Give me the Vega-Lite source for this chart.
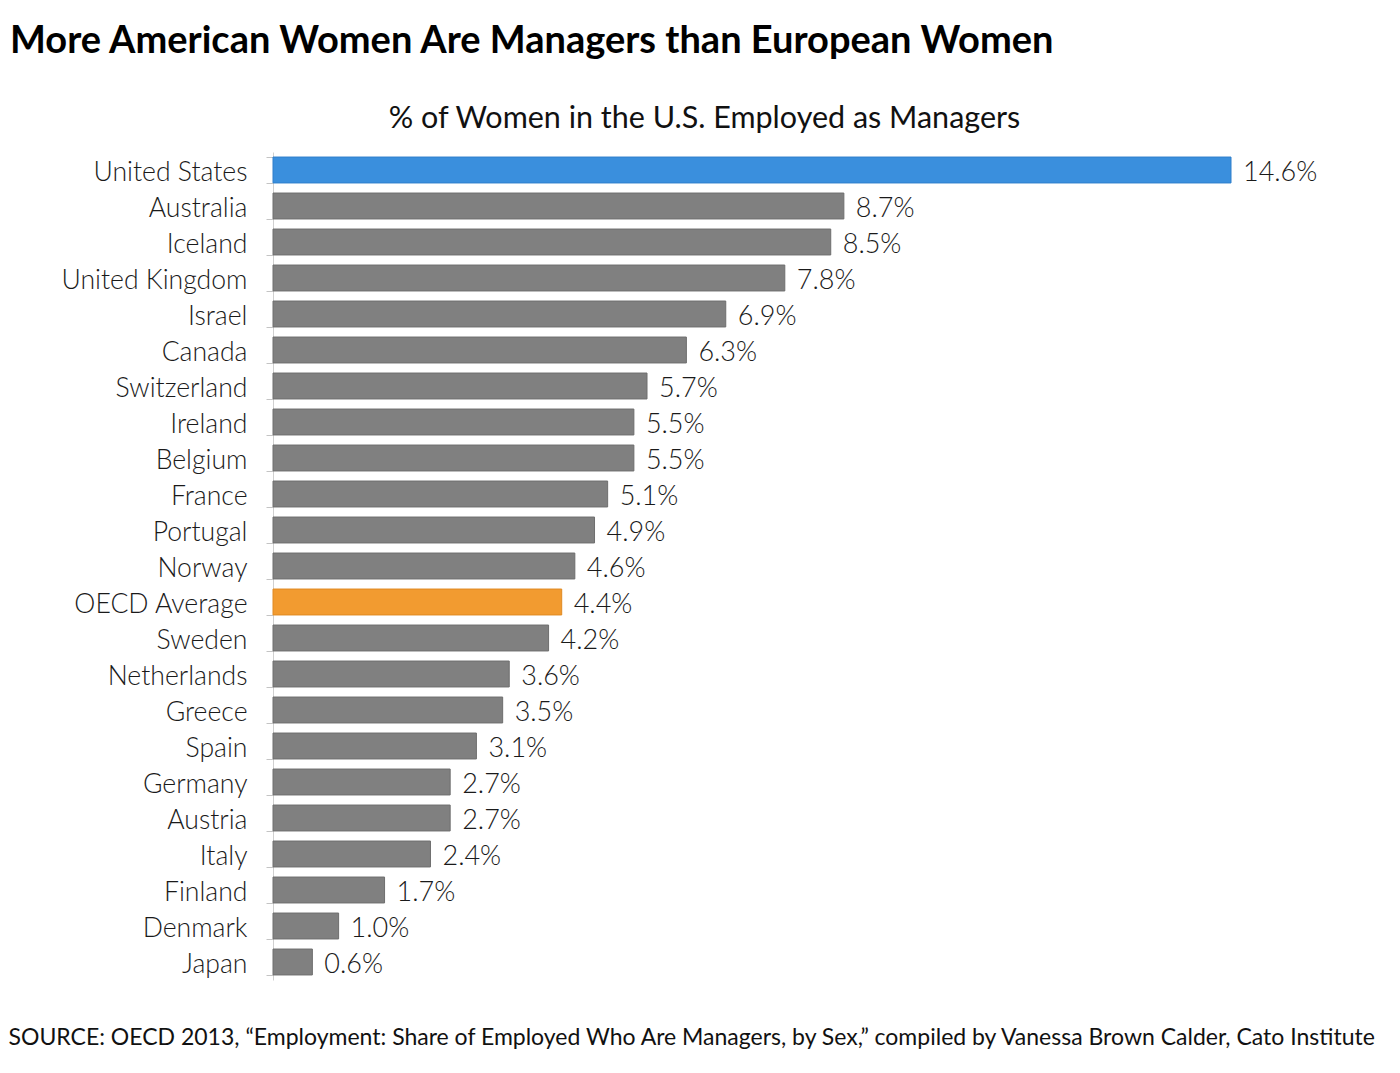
{
  "$schema": "https://vega.github.io/schema/vega-lite/v6.json",
  "width": 958,
  "height": 828,
  "autosize": {"type": "none"},
  "padding": {"left": 273, "top": 152, "right": 169, "bottom": 93},
  "background": "white",
  "title": {
    "text": "More American Women Are Managers than European Women",
    "anchor": "start",
    "frame": "group",
    "dx": -263,
    "offset": 42,
    "font": "Lato",
    "fontSize": 38,
    "fontWeight": "bold",
    "color": "#000000"
  },
  "data": {
    "values": [
      {"country": "United States", "value": 14.6, "group": "us"},
      {"country": "Australia", "value": 8.7, "group": "other"},
      {"country": "Iceland", "value": 8.5, "group": "other"},
      {"country": "United Kingdom", "value": 7.8, "group": "other"},
      {"country": "Israel", "value": 6.9, "group": "other"},
      {"country": "Canada", "value": 6.3, "group": "other"},
      {"country": "Switzerland", "value": 5.7, "group": "other"},
      {"country": "Ireland", "value": 5.5, "group": "other"},
      {"country": "Belgium", "value": 5.5, "group": "other"},
      {"country": "France", "value": 5.1, "group": "other"},
      {"country": "Portugal", "value": 4.9, "group": "other"},
      {"country": "Norway", "value": 4.6, "group": "other"},
      {"country": "OECD Average", "value": 4.4, "group": "oecd"},
      {"country": "Sweden", "value": 4.2, "group": "other"},
      {"country": "Netherlands", "value": 3.6, "group": "other"},
      {"country": "Greece", "value": 3.5, "group": "other"},
      {"country": "Spain", "value": 3.1, "group": "other"},
      {"country": "Germany", "value": 2.7, "group": "other"},
      {"country": "Austria", "value": 2.7, "group": "other"},
      {"country": "Italy", "value": 2.4, "group": "other"},
      {"country": "Finland", "value": 1.7, "group": "other"},
      {"country": "Denmark", "value": 1.0, "group": "other"},
      {"country": "Japan", "value": 0.6, "group": "other"}
    ]
  },
  "encoding": {
    "y": {
      "field": "country",
      "type": "nominal",
      "sort": null,
      "scale": {"paddingInner": 0.28, "paddingOuter": 0.14},
      "axis": {
        "title": null,
        "labelFont": "Lato",
        "labelFontSize": 26.6,
        "labelFontWeight": 300,
        "labelColor": "#1a1a1a",
        "labelPadding": 19,
        "labelOffset": 2,
        "labelLimit": 400,
        "ticks": true,
        "tickSize": 7,
        "tickWidth": 1,
        "tickColor": "#c4c4c4",
        "domainColor": "#d0d0d0",
        "tickBand": "extent"
      }
    }
  },
  "layer": [
    {
      "mark": {"type": "bar", "strokeWidth": 1},
      "encoding": {
        "x": {
          "field": "value",
          "type": "quantitative",
          "scale": {"domain": [0, 14.6], "nice": false, "zero": true},
          "axis": {
            "orient": "top",
            "labels": false,
            "ticks": false,
            "domain": false,
            "grid": false,
            "title": "% of Women in the U.S. Employed as Managers",
            "titleFont": "Lato",
            "titleFontSize": 30.5,
            "titleFontWeight": "normal",
            "titleColor": "#111111",
            "titleX": 431,
            "titleY": -25,
            "titleAlign": "center",
            "titleBaseline": "alphabetic",
            "titleAnchor": null
          }
        },
        "color": {
          "field": "group",
          "type": "nominal",
          "scale": {"domain": ["us", "oecd", "other"], "range": ["#3a8fdd", "#f29b30", "#808080"]},
          "legend": null
        },
        "stroke": {
          "field": "group",
          "type": "nominal",
          "scale": {"domain": ["us", "oecd", "other"], "range": ["#2f7fcb", "#e08a22", "#6e6e6e"]},
          "legend": null
        }
      }
    },
    {
      "transform": [{"calculate": "format(datum.value, '.1f') + '%'", "as": "label"}],
      "mark": {
        "type": "text",
        "align": "left",
        "baseline": "middle",
        "dx": 12,
        "dy": 3,
        "font": "Lato",
        "fontSize": 27,
        "fontWeight": 300,
        "color": "#1a1a1a"
      },
      "encoding": {
        "x": {
          "field": "value",
          "type": "quantitative",
          "axis": {
            "orient": "bottom",
            "labels": false,
            "ticks": false,
            "domain": false,
            "grid": false,
            "title": "SOURCE: OECD 2013, “Employment: Share of Employed Who Are Managers, by Sex,” compiled by Vanessa Brown Calder, Cato Institute",
            "titleFont": "Lato",
            "titleFontSize": 23,
            "titleFontWeight": "normal",
            "titleColor": "#111111",
            "titleX": -265,
            "titleY": 64,
            "titleAlign": "left",
            "titleBaseline": "alphabetic",
            "titleAnchor": null
          }
        },
        "text": {"field": "label"}
      }
    }
  ],
  "resolve": {"axis": {"x": "independent"}},
  "config": {"view": {"stroke": null}}
}
